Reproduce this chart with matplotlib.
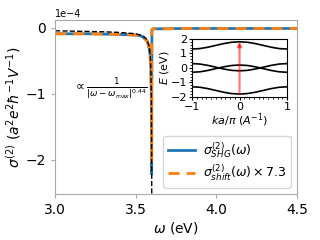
import matplotlib
matplotlib.use("Agg")
import matplotlib.pyplot as plt
import matplotlib.ticker as mticker

# ── Data ──────────────────────────────────────────────────────────────────
omega = [3.0, 3.1, 3.2, 3.3, 3.4, 3.45, 3.5, 3.53, 3.55, 3.57, 3.58, 3.585,
         3.59, 3.594, 3.597, 3.599, 3.6005, 3.602, 3.61, 3.65, 3.8, 4.0, 4.5]
sigma_shg = [-0.09, -0.09, -0.09, -0.095, -0.10, -0.105, -0.11, -0.12, -0.15,
             -0.20, -0.27, -0.33, -0.42, -0.60, -1.00, -2.22,
             -0.05, -0.02, -0.015, -0.015, -0.01, -0.01, -0.01]
sigma_shift = [-0.09, -0.09, -0.09, -0.095, -0.10, -0.105, -0.11, -0.12, -0.15,
               -0.20, -0.27, -0.33, -0.42, -0.60, -0.98, -2.05,
               -0.05, -0.02, -0.015, -0.015, -0.01, -0.01, -0.01]

omega_fit = [3.0, 3.1, 3.2, 3.3, 3.4, 3.45, 3.5, 3.53, 3.55, 3.57, 3.58,
             3.585, 3.59, 3.594, 3.597, 3.599, 3.5999]
sigma_fit = [-0.045, -0.05, -0.055, -0.06, -0.07, -0.08, -0.09, -0.11, -0.13,
             -0.18, -0.25, -0.30, -0.40, -0.60, -1.00, -1.80, -3.0]

k = [-1, -5/6, -2/3, -1/2, -1/3, -1/6, 0, 1/6, 1/3, 1/2, 2/3, 5/6, 1]
band_top = [1.3, 1.333, 1.425, 1.55, 1.675, 1.767, 1.8,
            1.767, 1.675, 1.55, 1.425, 1.333, 1.3]
band_mid1 = [-0.3, -0.267, -0.175, -0.05, 0.075, 0.167, 0.2,
             0.167, 0.075, -0.05, -0.175, -0.267, -0.3]
band_mid2 = [0.3, 0.267, 0.175, 0.05, -0.075, -0.167, -0.2,
             -0.167, -0.075, 0.05, 0.175, 0.267, 0.3]
band_bot = [-1.3, -1.333, -1.425, -1.55, -1.675, -1.767, -1.8,
            -1.767, -1.675, -1.55, -1.425, -1.333, -1.3]
arrow_k = 0.0
arrow_from, arrow_to = -1.8, 1.8

BLUE = "#1f77b4"
ORANGE = "#ff7f0e"
SPINE = "#a8a8a8"

fig = plt.figure(figsize=(3.2, 2.4), dpi=100)
ax = fig.add_axes([0.172, 0.192, 0.756, 0.725])

ax.plot(omega, sigma_shg, color=BLUE, lw=2, label=r"$\sigma^{(2)}_{SHG}(\omega)$")
ax.plot(omega, sigma_shift, color=ORANGE, lw=2, ls=(0, (4, 2.5)),
        label=r"$\sigma^{(2)}_{shift}(\omega)\times7.3$")
ax.plot(omega_fit, sigma_fit, color="black", lw=1, ls="--")

ax.set_xlim(3.0, 4.5)
ax.set_ylim(-2.52, 0.12)
ax.set_xticks([3.0, 3.5, 4.0, 4.5])
ax.set_yticks([0, -1, -2])
ax.set_xlabel(r"$\omega$ (eV)", fontsize=10, labelpad=2)
ax.set_ylabel(r"$\sigma^{(2)}$ $(a^2e^2\hbar^{-1}V^{-1})$", fontsize=10, labelpad=2)
ax.tick_params(labelsize=10, color=SPINE, length=3)
for sp in ax.spines.values():
    sp.set_color(SPINE)
ax.text(0.0, 1.005, "1e\u22124", transform=ax.transAxes, fontsize=7, va="bottom")

ax.text(3.34, -0.94, r"$\propto\frac{1}{|\omega-\omega_{max}|^{0.44}}$",
        fontsize=9, ha="center", va="center")

ax.legend(loc="lower right", fontsize=9, handlelength=2.2, borderpad=0.35,
          labelspacing=0.25, handletextpad=0.6, borderaxespad=0.5)

# ── Inset: band structure ─────────────────────────────────────────────────
ins = fig.add_axes([0.6, 0.596, 0.297, 0.242])
for band in (band_top, band_mid1, band_mid2, band_bot):
    ins.plot(k, band, color="black", lw=1.2)
ins.annotate("", xy=(arrow_k, arrow_to), xytext=(arrow_k, arrow_from),
             arrowprops=dict(arrowstyle="-|>", color="red", alpha=0.55, lw=1.5,
                             mutation_scale=6, shrinkA=0, shrinkB=0))
ins.set_xlim(-1, 1)
ins.set_ylim(-2, 2)
ins.set_xticks([-1, 0, 1])
ins.set_yticks([-2, -1, 0, 1, 2])
ins.xaxis.set_minor_locator(mticker.AutoMinorLocator(10))
ins.yaxis.set_minor_locator(mticker.AutoMinorLocator(5))
ins.tick_params(labelsize=8, length=2.5, pad=1)
ins.tick_params(which="minor", length=1.2)
ins.set_xlabel(r"$ka/\pi$ $(A^{-1})$", fontsize=8, labelpad=0)
ins.set_ylabel(r"$E$ (eV)", fontsize=8, labelpad=0)

fig.savefig("out.png", dpi=100)
